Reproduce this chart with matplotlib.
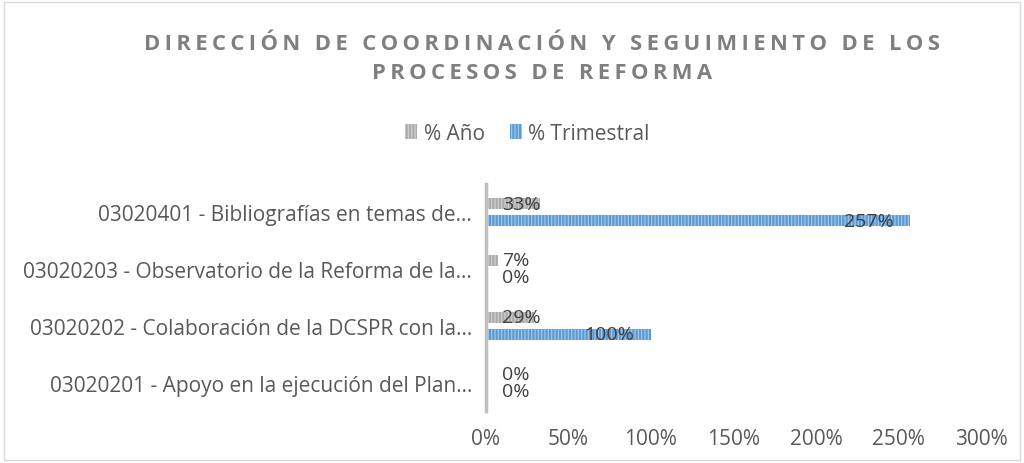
import matplotlib.pyplot as plt
from matplotlib.patches import Rectangle

categorias = [
    "03020201 - Apoyo en la ejecución del Plan…",
    "03020202 - Colaboración de la DCSPR con la…",
    "03020203 - Observatorio de la Reforma de la…",
    "03020401 - Bibliografías en temas de…",
]
pct_anio = [0.00, 0.29, 0.07, 0.33]
pct_trim = [0.00, 1.00, 0.00, 2.57]
xticks = [0, 0.5, 1.0, 1.5, 2.0, 2.5, 3.0]

plt.rcParams['font.family'] = ['Open Sans', 'DejaVu Sans']
plt.rcParams['hatch.linewidth'] = 0.8

fig = plt.figure(figsize=(10.24, 4.64), dpi=100)
fig.patches.append(Rectangle((0.004, 0.006), 0.992, 0.988, transform=fig.transFigure,
                             fill=False, edgecolor='#D9D9D9', linewidth=1))
ax = fig.add_axes([0.4746, 0.112, 0.4834, 0.49])

y = list(range(len(categorias)))
h = 0.2
off = 0.15
ax.barh([v + off for v in y], pct_anio, height=h, color='#ABABAB', edgecolor='#D3D3D3',
        hatch='|||||', linewidth=0, label='% Año')
ax.barh([v - off for v in y], pct_trim, height=h, color='#5B9BD5', edgecolor='#A9CBEA',
        hatch='|||||', linewidth=0, label='% Trimestral')

for i in y:
    for val, yy in ((pct_anio[i], i + off), (pct_trim[i], i - off)):
        txt = f"{val*100:.0f}%"
        if val > 0.5:
            ax.text(val - 0.1, yy, txt, ha='right', va='center', fontsize=14, color='#404040')
        else:
            ax.text(0.1, yy, txt, ha='left', va='center', fontsize=14, color='#404040')

ax.set_xlim(0, 3.0)
ax.set_ylim(-0.5, len(categorias) - 0.5)
ax.set_xticks(xticks)
ax.set_xticklabels([f"{t*100:.0f}%" for t in xticks], fontsize=15, color='#595959')
ax.set_yticks(y)
ax.set_yticklabels(categorias, fontsize=15, color='#595959')
ax.tick_params(axis='both', length=0)
ax.tick_params(axis='x', pad=12)
ax.tick_params(axis='y', pad=10)
for s in ['top', 'right', 'bottom']:
    ax.spines[s].set_visible(False)
ax.spines['left'].set_color('#BFBFBF')
ax.spines['left'].set_linewidth(2.5)

titulo1 = "DIRECCIÓN DE COORDINACIÓN Y SEGUIMIENTO DE LOS"
titulo2 = "PROCESOS DE REFORMA"
def espaciar(t):
    return "\u2009".join(" " if c == " " else c for c in t)
fig.text(0.529, 0.905, espaciar(titulo1), ha='center', va='center', fontsize=15.8,
         fontweight='bold', color='#7F7F7F')
fig.text(0.529, 0.842, espaciar(titulo2), ha='center', va='center', fontsize=15.8,
         fontweight='bold', color='#7F7F7F')

fig.legend(loc='center', bbox_to_anchor=(0.515, 0.71), ncol=2, frameon=False,
           fontsize=15, labelcolor='#595959', handlelength=0.6, handleheight=0.7,
           handletextpad=0.3, columnspacing=1.2)

fig.savefig('out.png', dpi=100)
